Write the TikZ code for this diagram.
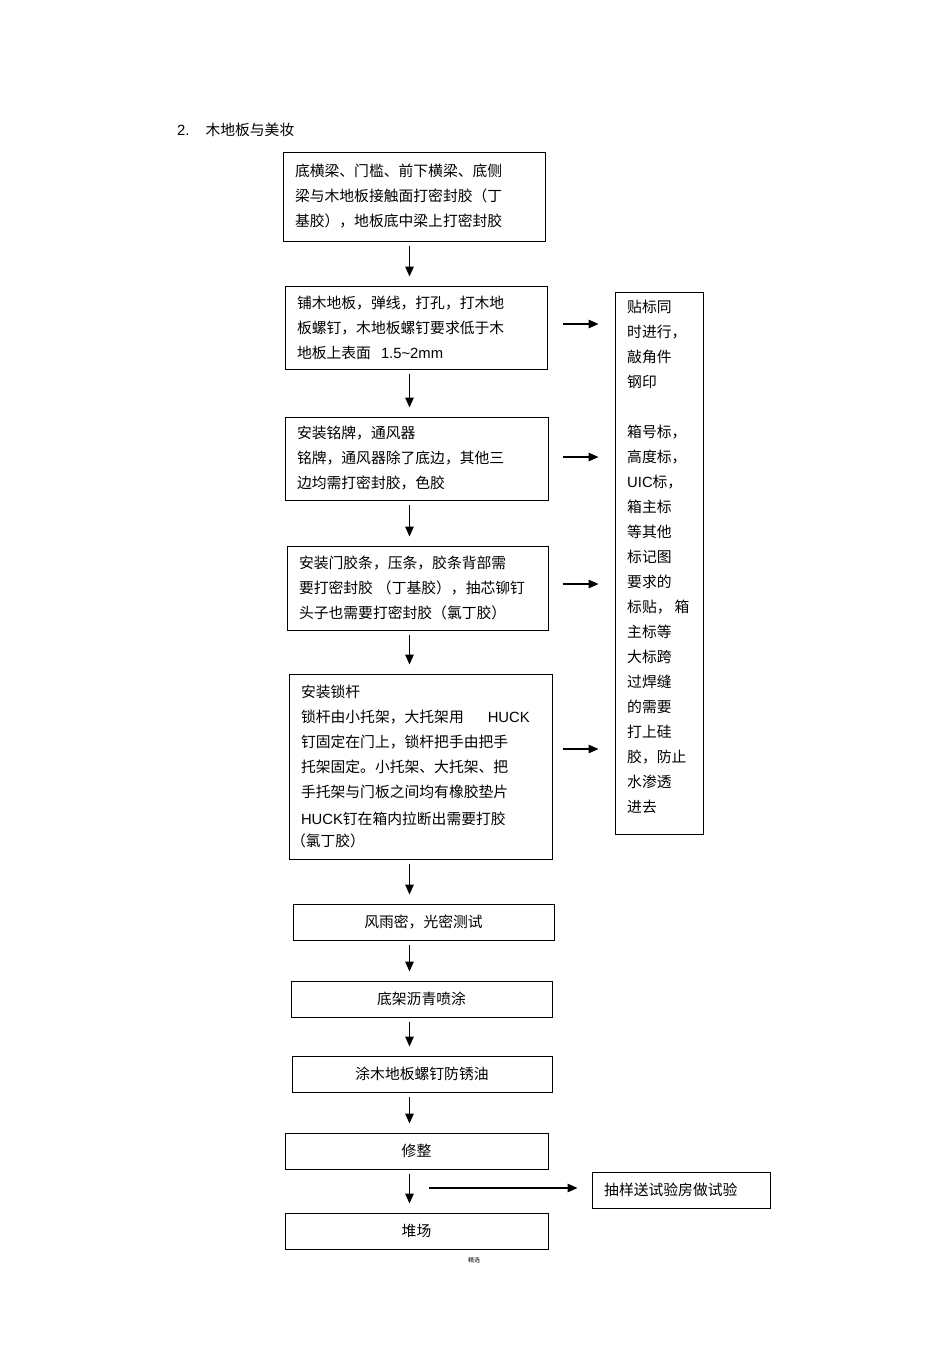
\documentclass[tikz,border=0pt]{standalone}
\usepackage{fontspec}
\setmainfont{Noto Sans CJK SC}
\newfontfamily\lat{Liberation Sans}
\usetikzlibrary{arrows.meta}
\tikzset{
  box/.style={draw, line width=1pt, inner xsep=12pt, inner ysep=0pt, align=left, anchor=center, font=\fontsize{14.8}{25}\selectfont},
  cbox/.style={draw, line width=1pt, inner sep=0pt, align=center, anchor=center, font=\fontsize{14.8}{25}\selectfont},
  arr/.style={-{Triangle[length=10pt,width=8.5pt]}, line width=1.4pt},
  plain/.style={inner sep=0pt, align=left, font=\fontsize{14.8}{25}\selectfont}
}
\begin{document}
\begin{tikzpicture}[x=1pt,y=-1pt]
\useasboundingbox[fill=white] (0,0) rectangle (950,1345);

\node[plain, anchor=west] (title) at (177,130) {{\lat 2.}\hspace{16pt}木地板与美妆};

\node[box, text width=238pt, minimum height=89pt] (b1) at (414,196.5)
  {底横梁、门槛、前下横梁、底侧\\梁与木地板接触面打密封胶（丁\\基胶），地板底中梁上打密封胶};
\node[box, text width=238pt, minimum height=83pt] (b2) at (416,327.5)
  {铺木地板，弹线，打孔，打木地\\板螺钉，木地板螺钉要求低于木\\地板上表面\hspace{10pt}{\lat 1.5\textasciitilde 2mm}};
\node[box, text width=239pt, minimum height=83pt] (b3) at (416.5,458.5)
  {安装铭牌，通风器\\铭牌，通风器除了底边，其他三\\边均需打密封胶，色胶};
\node[box, text width=237pt, minimum height=84pt] (b4) at (417.5,588)
  {安装门胶条，压条，胶条背部需\\要打密封胶\hspace{4pt}（丁基胶），抽芯铆钉\\头子也需要打密封胶（氯丁胶）};
\node[box, text width=239pt, minimum height=185pt] (b5) at (420.5,766.5)
  {安装锁杆\\锁杆由小托架，大托架用\hspace{24pt}{\lat HUCK}\\钉固定在门上，锁杆把手由把手\\托架固定。小托架、大托架、把\\手托架与门板之间均有橡胶垫片\\[2pt]{\lat HUCK}钉在箱内拉断出需要打胶\\[-3pt]\hspace{-10pt}（氯丁胶）};
\node[cbox, minimum width=261pt, minimum height=36pt] (b6) at (423.5,922) {风雨密，光密测试};
\node[cbox, minimum width=261pt, minimum height=36pt] (b7) at (421.5,999) {底架沥青喷涂};
\node[cbox, minimum width=260pt, minimum height=36pt] (b8) at (422,1074) {涂木地板螺钉防锈油};
\node[cbox, minimum width=263pt, minimum height=36pt] (b9) at (416.5,1151) {修整};
\node[cbox, minimum width=263pt, minimum height=36pt] (b10) at (416.5,1231) {堆场};

\node[draw, line width=1pt, minimum width=88pt, minimum height=542pt, inner sep=0pt] (side) at (659,563) {};
\node[plain, anchor=west] (sidetext) at (627,557)
  {贴标同\\时进行，\\敲角件\\钢印\\[25pt]箱号标，\\高度标，\\{\lat UIC}标，\\箱主标\\等其他\\标记图\\要求的\\标贴，\hspace{3pt}箱\\主标等\\大标跨\\过焊缝\\的需要\\打上硅\\胶，防止\\水渗透\\进去};

\node[draw, line width=1pt, minimum width=178pt, minimum height=36pt, inner sep=0pt] (sample) at (681,1190) {};
\node[plain, anchor=west] (sampletext) at (604,1190) {抽样送试验房做试验};

\node[inner sep=0pt, font=\fontsize{6}{7}\selectfont] (foot) at (474,1260) {精选};

\coordinate (ax) at (409.5,0);
\foreach \a/\b in {b1/b2,b2/b3,b3/b4,b4/b5,b5/b6,b6/b7,b7/b8,b8/b9,b9/b10}
  \draw[arr, shorten <=4pt, shorten >=9pt] (\a.south -| ax) -- (\b.north -| ax);

\coordinate (h2) at (0,324);
\coordinate (h3) at (0,457);
\coordinate (h4) at (0,584);
\coordinate (h5) at (0,749);
\draw[arr] (b2.east |- h2) ++(15,0) -- ([xshift=-16pt]side.west |- h2);
\draw[arr] (b3.east |- h3) ++(14,0) -- ([xshift=-16pt]side.west |- h3);
\draw[arr] (b4.east |- h4) ++(14,0) -- ([xshift=-16pt]side.west |- h4);
\draw[arr] (b5.east |- h5) ++(10,0) -- ([xshift=-16pt]side.west |- h5);

\coordinate (sstart) at (429,1188);
\draw[arr] (sstart) -- ([xshift=-14pt]sample.west |- sstart);
\end{tikzpicture}
\end{document}
